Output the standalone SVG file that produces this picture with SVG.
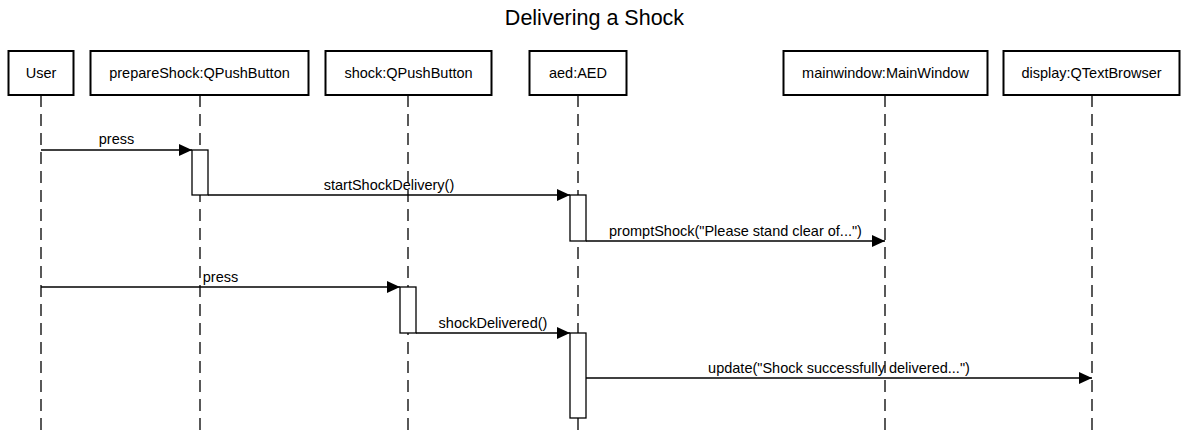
<svg xmlns="http://www.w3.org/2000/svg" width="1188" height="435" viewBox="0 0 1188 435">
<style>
text{font-family:"Liberation Sans",Arial,sans-serif;fill:#000}
.box{fill:#fff;stroke:#000;stroke-width:2}
.lbl{font-size:14.5px;text-anchor:middle}
.life{stroke:#000;stroke-width:1.3;stroke-dasharray:12 7;fill:none}
.act{fill:#fff;stroke:#000;stroke-width:1.3}
.msg{stroke:#000;stroke-width:1.3;fill:none;marker-end:url(#ah)}
.title{font-size:21.5px;text-anchor:middle}
</style>
<defs>
<marker id="ah" markerUnits="userSpaceOnUse" markerWidth="13" markerHeight="12" refX="13" refY="6" orient="auto">
<path d="M0,0 L13,6 L0,12 Z" fill="#000"/>
</marker>
</defs>
<rect width="1188" height="435" fill="#fff"/>
<text class="title" x="594.5" y="25">Delivering a Shock</text>

<g id="user">
<line class="life" x1="41" y1="95" x2="41" y2="435"/>
<rect class="box" x="8.5" y="51" width="65" height="44"/>
<text class="lbl" x="41" y="78">User</text>
</g>
<g id="prepareShock">
<line class="life" x1="200" y1="95" x2="200" y2="435"/>
<rect class="box" x="90.5" y="51" width="218" height="44"/>
<text class="lbl" x="199.5" y="78">prepareShock:QPushButton</text>
<rect class="act" x="192" y="150" width="16" height="45"/>
</g>
<g id="shock">
<line class="life" x1="408" y1="95" x2="408" y2="435"/>
<rect class="box" x="325.5" y="51" width="166" height="44"/>
<text class="lbl" x="408.5" y="78">shock:QPushButton</text>
<rect class="act" x="400" y="287" width="16" height="46"/>
</g>
<g id="aed">
<line class="life" x1="578" y1="95" x2="578" y2="435"/>
<rect class="box" x="529.5" y="51" width="97" height="44"/>
<text class="lbl" x="578" y="78">aed:AED</text>
<rect class="act" x="570" y="195" width="16" height="46"/>
<rect class="act" x="570" y="333" width="16" height="85"/>
</g>
<g id="mainwindow">
<line class="life" x1="885" y1="95" x2="885" y2="435"/>
<rect class="box" x="783.5" y="51" width="204" height="44"/>
<text class="lbl" x="885.5" y="78">mainwindow:MainWindow</text>
</g>
<g id="display">
<line class="life" x1="1092" y1="95" x2="1092" y2="435"/>
<rect class="box" x="1003.5" y="51" width="176" height="44"/>
<text class="lbl" x="1091.5" y="78">display:QTextBrowser</text>
</g>

<g id="connectors">
<line class="msg" x1="41" y1="150" x2="192" y2="150"/>
<text class="lbl" x="116.5" y="144">press</text>
<line class="msg" x1="208" y1="195" x2="570" y2="195"/>
<text class="lbl" x="389" y="190">startShockDelivery()</text>
<line class="msg" x1="586" y1="241" x2="885" y2="241"/>
<text class="lbl" x="735.5" y="236">promptShock("Please stand clear of...")</text>
<line class="msg" x1="41" y1="287" x2="400" y2="287"/>
<text class="lbl" x="220.5" y="282">press</text>
<line class="msg" x1="416" y1="333" x2="570" y2="333"/>
<text class="lbl" x="493" y="328">shockDelivered()</text>
<line class="msg" x1="586" y1="378" x2="1092" y2="378"/>
<text class="lbl" x="839" y="373">update("Shock successfully delivered...")</text>
</g>
</svg>
